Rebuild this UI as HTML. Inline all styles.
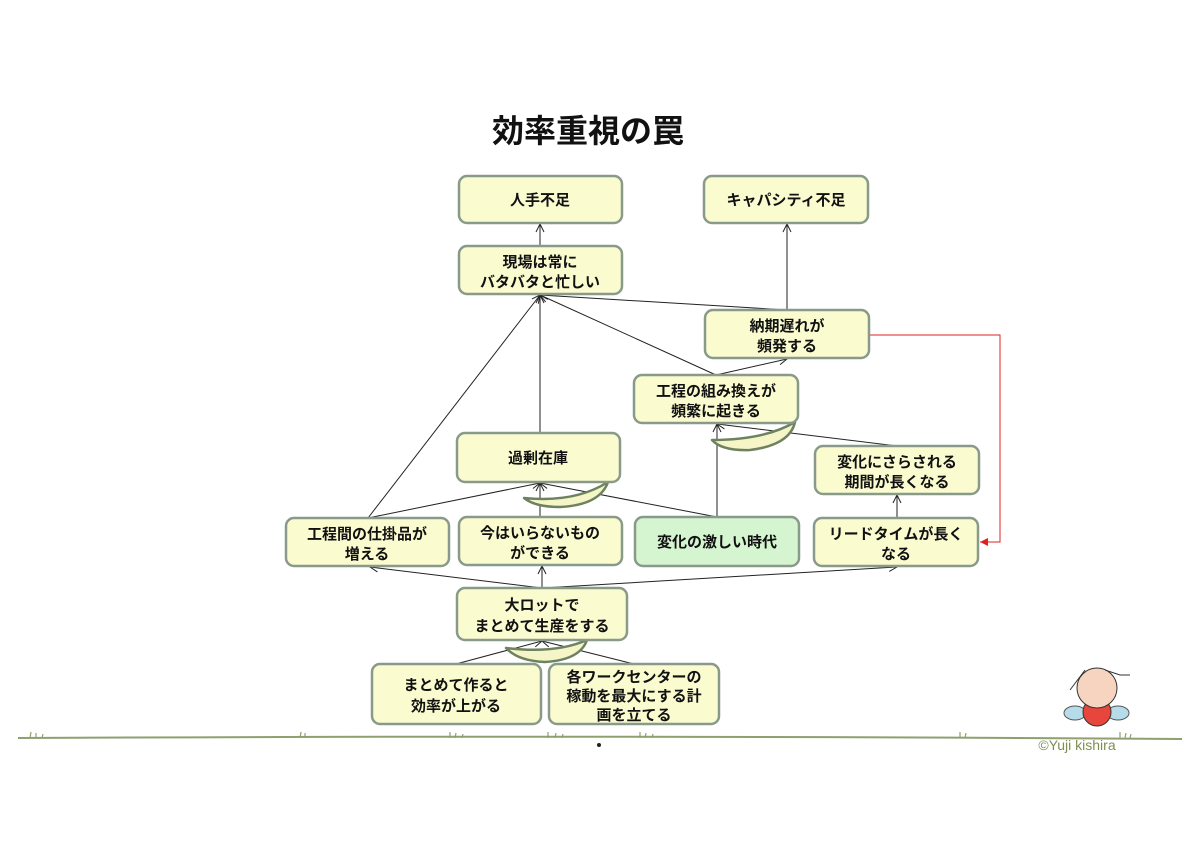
<!DOCTYPE html>
<html><head><meta charset="utf-8"><style>
body{margin:0;background:#fff;}
svg text{font-family:"Liberation Sans","Noto Sans CJK JP",sans-serif;font-weight:bold;font-size:15px;fill:#111;text-anchor:middle;}
</style></head><body>
<svg width="1200" height="848" viewBox="0 0 1200 848" xmlns="http://www.w3.org/2000/svg">
<defs>
<marker id="a" markerWidth="10" markerHeight="10" refX="9" refY="5" orient="auto" markerUnits="userSpaceOnUse"><path d="M1,1 L9,5 L1,9" fill="none" stroke="#222" stroke-width="1"/></marker>
<marker id="r" markerWidth="10" markerHeight="10" refX="9" refY="5" orient="auto" markerUnits="userSpaceOnUse"><path d="M1,1 L9,5 L1,9Z" fill="#e02020"/></marker>
</defs>
<rect width="1200" height="848" fill="#fff"/>
<text x="588" y="142" style="font-size:32px">効率重視の罠</text>
<g stroke="#222" stroke-width="1" fill="none">
<line x1="540" y1="246" x2="540" y2="224" marker-end="url(#a)"/>
<line x1="787" y1="310" x2="787" y2="224" marker-end="url(#a)"/>
<line x1="787" y1="310" x2="540" y2="295" marker-end="url(#a)"/>
<line x1="716" y1="375" x2="540" y2="295" marker-end="url(#a)"/>
<line x1="716" y1="375" x2="787" y2="359" marker-end="url(#a)"/>
<line x1="540" y1="433" x2="540" y2="295" marker-end="url(#a)"/>
<line x1="368" y1="518" x2="540" y2="295" marker-end="url(#a)"/>
<line x1="368" y1="518" x2="540" y2="483" marker-end="url(#a)"/>
<line x1="540" y1="517" x2="540" y2="483" marker-end="url(#a)"/>
<line x1="717" y1="517" x2="540" y2="483" marker-end="url(#a)"/>
<line x1="717" y1="517" x2="717" y2="424" marker-end="url(#a)"/>
<line x1="897" y1="446" x2="717" y2="424" marker-end="url(#a)"/>
<line x1="897" y1="518" x2="897" y2="495" marker-end="url(#a)"/>
<line x1="542" y1="588" x2="370" y2="567" marker-end="url(#a)"/>
<line x1="542" y1="588" x2="542" y2="566" marker-end="url(#a)"/>
<line x1="542" y1="588" x2="897" y2="567" marker-end="url(#a)"/>
<line x1="456" y1="664" x2="542" y2="641" marker-end="url(#a)"/>
<line x1="634" y1="664" x2="542" y2="641" marker-end="url(#a)"/>
</g>
<polyline points="869,335 1000,335 1000,542 980,542" fill="none" stroke="#e02020" stroke-width="1" marker-end="url(#r)"/>
<g fill="#f5f5c8" stroke="#6f8260" stroke-width="2.5" stroke-linejoin="round">
<path d="M524,498 Q575,503 608,482 Q600,505 560,507 Q535,507 524,498 Z"/>
<path d="M712,440 Q765,440 795,422 Q790,445 750,450 Q722,451 712,440 Z"/>
<path d="M506,648 Q555,654 587,640 Q580,660 545,662 Q518,661 506,648 Z"/>
</g>
<g stroke="#8a9a8a" stroke-width="2.5">
<rect x="459" y="176" width="163" height="47" rx="8" fill="#fbfbd0"/>
<rect x="704" y="176" width="164" height="47" rx="8" fill="#fbfbd0"/>
<rect x="459" y="246" width="163" height="48" rx="8" fill="#fbfbd0"/>
<rect x="705" y="310" width="164" height="48" rx="8" fill="#fbfbd0"/>
<rect x="634" y="375" width="164" height="48" rx="8" fill="#fbfbd0"/>
<rect x="457" y="433" width="163" height="49" rx="8" fill="#fbfbd0"/>
<rect x="815" y="446" width="164" height="48" rx="8" fill="#fbfbd0"/>
<rect x="286" y="518" width="163" height="48" rx="8" fill="#fbfbd0"/>
<rect x="459" y="517" width="163" height="48" rx="8" fill="#fbfbd0"/>
<rect x="635" y="517" width="164" height="49" rx="8" fill="#d4f5d0"/>
<rect x="814" y="518" width="164" height="48" rx="8" fill="#fbfbd0"/>
<rect x="457" y="588" width="170" height="52" rx="8" fill="#fbfbd0"/>
<rect x="372" y="664" width="169" height="60" rx="8" fill="#fbfbd0"/>
<rect x="549" y="664" width="170" height="60" rx="8" fill="#fbfbd0"/>
</g>
<text x="540" y="205">人手不足</text>
<text x="786" y="205">キャパシティ不足</text>
<text x="540" y="267">現場は常に</text><text x="540" y="287">バタバタと忙しい</text>
<text x="787" y="331">納期遅れが</text><text x="787" y="351">頻発する</text>
<text x="716" y="396">工程の組み換えが</text><text x="716" y="416">頻繁に起きる</text>
<text x="538" y="463">過剰在庫</text>
<text x="897" y="467">変化にさらされる</text><text x="897" y="487">期間が長くなる</text>
<text x="367" y="539">工程間の仕掛品が</text><text x="367" y="559">増える</text>
<text x="540" y="538">今はいらないもの</text><text x="540" y="558">ができる</text>
<text x="717" y="547">変化の激しい時代</text>
<text x="896" y="539">リードタイムが長く</text><text x="896" y="559">なる</text>
<text x="542" y="610">大ロットで</text><text x="542" y="631">まとめて生産をする</text>
<text x="456" y="690">まとめて作ると</text><text x="456" y="711">効率が上がる</text>
<text x="634" y="682">各ワークセンターの</text><text x="634" y="701">稼動を最大にする計</text><text x="634" y="720">画を立てる</text>
<path d="M18,738 Q600,735 1182,739" stroke="#8ea070" stroke-width="2" fill="none"/>
<g stroke="#8ea070" stroke-width="1.2">
<path d="M30,738l1,-6M36,738l0,-5M42,738l1,-4M300,738l1,-6M305,738l0,-5M450,738l0,-6M455,738l1,-5M462,738l1,-4M548,738l0,-6M555,738l1,-5M562,738l1,-4M640,738l0,-6M645,738l1,-5M652,738l1,-4M960,738l0,-6M965,738l1,-5M1120,738l0,-6M1125,738l1,-5M1130,738l1,-4"/>
</g>
<circle cx="599" cy="745" r="2" fill="#222"/>
<g>
<ellipse cx="1075" cy="713" rx="11" ry="7" fill="#b5dce8" stroke="#555"/>
<ellipse cx="1118" cy="713" rx="11" ry="7" fill="#b5dce8" stroke="#555"/>
<ellipse cx="1097" cy="712" rx="14" ry="14" fill="#e8453c" stroke="#333"/>
<circle cx="1097" cy="688" r="20" fill="#f7d4c0" stroke="#333"/>
<path d="M1085,670 L1070,690 M1105,670 L1120,675 L1130,675" stroke="#333" fill="none"/>
</g>
<text x="1077" y="750" style="font-weight:normal;font-size:14px;fill:#7a9050">©Yuji kishira</text>
</svg>
</body></html>
